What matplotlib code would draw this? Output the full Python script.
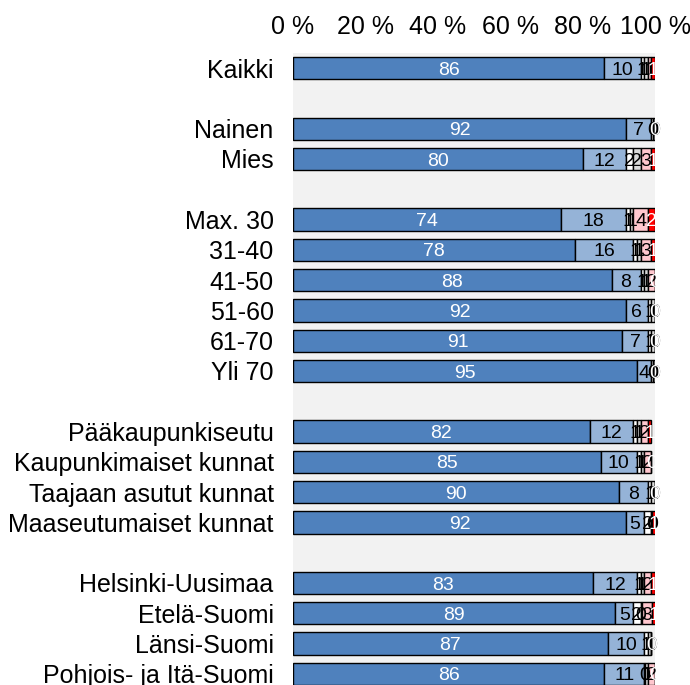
import numpy as np
import matplotlib.pyplot as plt

plt.rcParams['font.family'] = ['Liberation Sans', 'DejaVu Sans']

categories = ["Kaikki", "", "Nainen", "Mies", "",
              "Max. 30", "31-40", "41-50", "51-60", "61-70", "Yli 70", "",
              "Pääkaupunkiseutu", "Kaupunkimaiset kunnat", "Taajaan asutut kunnat",
              "Maaseutumaiset kunnat", "",
              "Helsinki-Uusimaa", "Etelä-Suomi", "Länsi-Suomi", "Pohjois- ja Itä-Suomi"]

# six answer classes per row (None = spacer row)
s1 = [86, None, 92, 80, None, 74, 78, 88, 92, 91, 95, None, 82, 85, 90, 92, None, 83, 89, 87, 86]
s2 = [10, None, 7, 12, None, 18, 16, 8, 6, 7, 4, None, 12, 10, 8, 5, None, 12, 5, 10, 11]
s3 = [1, None, 0.5, 2, None, 1, 1, 1, 1, 1, 0.5, None, 1, 1, 1, 2, None, 1, 2, 1, 0.3]
s4 = [1, None, 0.5, 2, None, 1, 1, 1, 1, 1, 0.5, None, 1, 1, 1, 0.3, None, 1, 0.3, 1, 0.7]
s5 = [1, None, 0, 3, None, 4, 3, 2, 0, 0, 0, None, 2, 2, 0, 0, None, 2, 3, 0, 2]
s6 = [1, None, 0, 1, None, 2, 1, 0, 0, 0, 0, None, 1, 0, 0, 1, None, 1, 1, 0, 0]

series = [s1, s2, s3, s4, s5, s6]
colors = ['#4F81BD', '#95B3D7', '#FFFFFF', '#D9D9D9', '#FFC7CE', '#FF0000']
txt_colors = ['white', 'black', 'black', 'black', 'black', 'white']

fig = plt.figure(figsize=(6.9, 6.85), dpi=100)
ax = fig.add_axes([293/690, -4/685, 362/690, 636/685])
ax.set_facecolor('#F2F2F2')

y = np.arange(len(categories))
left = np.zeros(len(categories))
for vals, c, tc in zip(series, colors, txt_colors):
    for i, v in enumerate(vals):
        if v is None:
            continue
        ax.barh(y[i], v, left=left[i], height=0.74, color=c,
                edgecolor='black', linewidth=1.0)
        ax.text(left[i] + v / 2, y[i] + 0.07, f"{round(v):d}", ha='center',
                va='center', fontsize=14, color=tc)
        left[i] += v

ax.set_xlim(0, 100)
ax.set_ylim(len(categories) - 0.5, -0.5)
ax.xaxis.tick_top()
ax.set_xticks([0, 20, 40, 60, 80, 100])
ax.set_xticklabels([f"{t} %" for t in [0, 20, 40, 60, 80, 100]], fontsize=18)
ax.set_yticks(y)
ax.set_yticklabels(categories, fontsize=18)
ax.tick_params(length=0)
ax.tick_params(axis='y', pad=14)
ax.tick_params(axis='x', pad=10)
for sp in ax.spines.values():
    sp.set_visible(False)

fig.savefig('out.png', dpi=100)
